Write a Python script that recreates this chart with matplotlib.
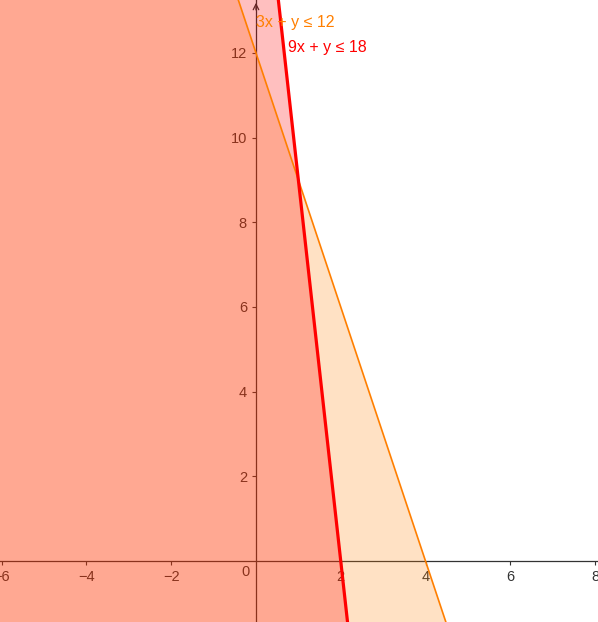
import numpy as np
import matplotlib
matplotlib.use("Agg")
from matplotlib import pyplot as plt

plt.rcParams["font.family"] = ["Liberation Sans", "DejaVu Sans"]

# ineqalities a*x + y <= c
labels = ["3x + y ≤ 12", "9x + y ≤ 18"]
slopes = [3, 9]
consts = [12, 18]
colors = ["#ff7f00", "#ff0000"]
alphas = [0.23, 0.25]
widths = [1.2, 2.3]
label_pos = [(0.0, 12.71), (0.75, 12.12)]

xticks = [-6, -4, -2, 2, 4, 6, 8]
yticks = [2, 4, 6, 8, 10, 12]

fig = plt.figure(figsize=(5.98, 6.22), dpi=100)
ax = fig.add_axes([0, 0, 1, 1])
ax.set_xlim(-6.04, 8.07)
ax.set_ylim(-1.44, 13.25)

# axes through the origin
ax.spines["left"].set_position(("data", 0))
ax.spines["bottom"].set_position(("data", 0))
ax.spines["right"].set_visible(False)
ax.spines["top"].set_visible(False)
for s in ["left", "bottom"]:
    ax.spines[s].set_color("#333333")
    ax.spines[s].set_linewidth(0.9)
ax.set_xticks(xticks)
ax.set_yticks(yticks)
ax.tick_params(colors="#333333", labelsize=10.5, length=3, width=0.8, direction="out")
ax.text(-0.25, -0.26, "0", color="#333333", fontsize=10.5, ha="center", va="center")
ax.annotate("", xy=(0, 13.25), xytext=(0, 12.95),
            arrowprops=dict(arrowstyle="->", color="#333333", lw=0.9))

x = np.linspace(-7, 9, 200)
for a, c, col, al, lw, lab, pos in zip(slopes, consts, colors, alphas, widths, labels, label_pos):
    y = c - a * x
    ax.fill_between(x, -3, y, color=col, alpha=al, linewidth=0, zorder=3)
    ax.plot(x, y, color=col, lw=lw, zorder=4)
    ax.text(pos[0], pos[1], lab, color=col, fontsize=11.5, va="center", zorder=5)

plt.savefig("out.png", dpi=100)
